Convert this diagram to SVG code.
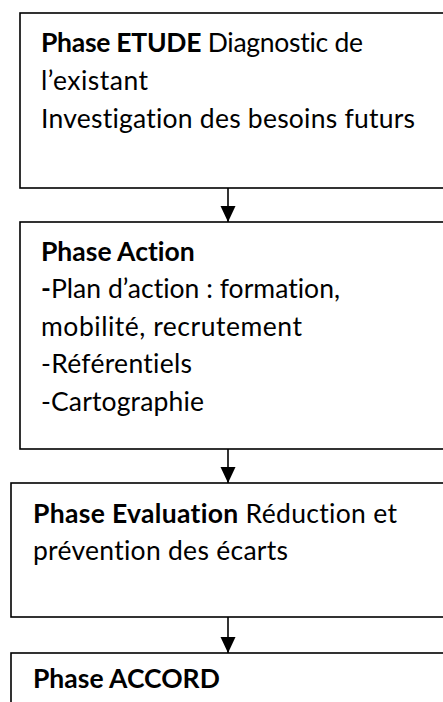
<svg xmlns="http://www.w3.org/2000/svg" width="443" height="702" viewBox="0 0 443 702">
  <defs>
    <marker id="arrow" viewBox="0 0 16 16" refX="16" refY="7.5" markerWidth="16" markerHeight="16" markerUnits="userSpaceOnUse" orient="auto">
      <path d="M0,0 L16,7.5 L0,15 Z" fill="#000"/>
    </marker>
    <style>
      .box { fill: #fff; stroke: #000; stroke-width: 1.6; }
      .txt { font-family: Lato, "Liberation Sans", sans-serif; font-size: 26.5px; fill: #000; font-variant-ligatures: none; font-feature-settings: "liga" 0, "clig" 0; }
      .b { font-weight: bold; }
      .conn { stroke: #000; stroke-width: 1.6; fill: none; }
    </style>
  </defs>
  <rect width="443" height="702" fill="#fff"/>

  <g id="etude">
    <rect class="box" x="20" y="13" width="440" height="175"/>
    <text class="txt" x="41" y="52" textLength="322"><tspan class="b">Phase ETUDE</tspan> Diagnostic de</text>
    <text class="txt" x="41" y="90" textLength="107">l’existant</text>
    <text class="txt" x="41" y="128" textLength="374">Investigation des besoins futurs</text>
  </g>

  <g id="action">
    <rect class="box" x="20" y="222" width="440" height="227"/>
    <text class="txt" x="41" y="261"><tspan class="b">Phase Action</tspan></text>
    <text class="txt" x="41" y="298" textLength="299"><tspan class="b">-</tspan>Plan d’action : formation,</text>
    <text class="txt" x="41" y="336" textLength="261">mobilité, recrutement</text>
    <text class="txt" x="41" y="373" textLength="151">-Référentiels</text>
    <text class="txt" x="41" y="411" textLength="163">-Cartographie</text>
  </g>

  <g id="evaluation">
    <rect class="box" x="11" y="483" width="450" height="134"/>
    <text class="txt" x="33" y="523" textLength="364"><tspan class="b">Phase Evaluation</tspan> Réduction et</text>
    <text class="txt" x="33" y="560" textLength="255">prévention des écarts</text>
  </g>

  <g id="accord">
    <rect class="box" x="11" y="653" width="450" height="80"/>
    <text class="txt" x="33" y="688"><tspan class="b">Phase ACCORD</tspan></text>
  </g>

  <g id="connectors">
    <line class="conn" x1="228" y1="188" x2="228" y2="222" marker-end="url(#arrow)"/>
    <line class="conn" x1="228" y1="449" x2="228" y2="483" marker-end="url(#arrow)"/>
    <line class="conn" x1="228" y1="617" x2="228" y2="653" marker-end="url(#arrow)"/>
  </g>
</svg>
